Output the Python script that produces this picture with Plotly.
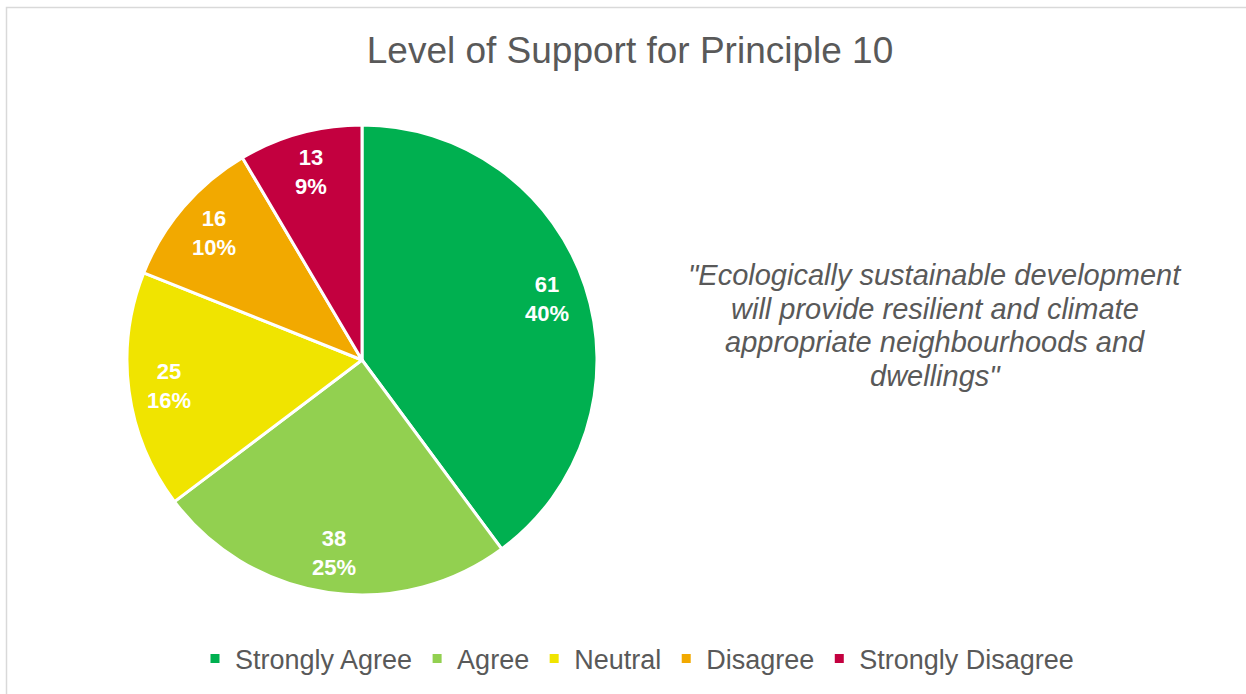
import math
import plotly.graph_objects as go

# Survey responses for Principle 10
categories = ["Strongly Agree", "Agree", "Neutral", "Disagree", "Strongly Disagree"]
counts = [61, 38, 25, 16, 13]
colors = ["#00B050", "#92D050", "#F0E400", "#F2A900", "#C3003F"]
quote_lines = [
    '"Ecologically sustainable development',
    "will provide resilient and climate",
    "appropriate neighbourhoods and",
    'dwellings"',
]

W, H = 1246, 694
cx, cy, r = 362, 360, 235  # pie centre and radius in pixels
FONT = "Arial"
GREY = "#595959"

# Whole-number percentages that add up to 100 (largest remainder)
total = sum(counts)
raw = [100 * c / total for c in counts]
pct = [math.floor(v) for v in raw]
order = sorted(range(len(raw)), key=lambda i: raw[i] - pct[i], reverse=True)
for i in order[: 100 - sum(pct)]:
    pct[i] += 1

fig = go.Figure(
    go.Pie(
        labels=categories,
        values=counts,
        sort=False,
        direction="clockwise",
        rotation=0,
        marker=dict(colors=colors, line=dict(color="white", width=3)),
        textinfo="none",
        hoverinfo="label+value+percent",
        domain=dict(x=[(cx - r) / W, (cx + r) / W], y=[(H - cy - r) / H, (H - cy + r) / H]),
    )
)

# Data labels placed along each slice's bisector
annotations = []
cum = 0
for c, p in zip(counts, pct):
    mid = (cum + c / 2) / total * 2 * math.pi
    cum += c
    rr = 0.83 * r
    px = cx + rr * math.sin(mid)
    py = cy - rr * math.cos(mid)
    annotations.append(
        dict(
            text=f"<b>{c}<br>{p}%</b>",
            x=px / W,
            y=1 - py / H,
            xref="paper",
            yref="paper",
            xanchor="center",
            yanchor="middle",
            showarrow=False,
            font=dict(family=FONT, size=22, color="white"),
        )
    )

# Quote text, one annotation per line for tight line spacing
q_top, q_step = 275, 33.5
for k, line in enumerate(quote_lines):
    annotations.append(
        dict(
            text=line,
            x=935 / W,
            y=1 - (q_top + k * q_step) / H,
            xref="paper",
            yref="paper",
            xanchor="center",
            yanchor="middle",
            showarrow=False,
            font=dict(family=FONT, size=29, color=GREY, style="italic"),
        )
    )

fig.update_layout(
    width=W,
    height=H,
    margin=dict(l=0, r=0, t=0, b=0),
    paper_bgcolor="white",
    font=dict(family=FONT, color=GREY),
    title=dict(
        text="Level of Support for Principle 10",
        x=630 / W,
        xanchor="center",
        y=1 - 50 / H,
        yanchor="middle",
        font=dict(family=FONT, size=37, color=GREY),
    ),
    legend=dict(
        orientation="h",
        x=637 / W,
        xanchor="center",
        y=1 - 659 / H,
        yanchor="middle",
        font=dict(family=FONT, size=27, color=GREY),
        itemwidth=30,
        traceorder="normal",
    ),
    annotations=annotations,
    shapes=[
        dict(
            type="rect",
            xref="paper",
            yref="paper",
            x0=6.5 / W,
            x1=1.01,
            y0=-0.01,
            y1=1 - 7.5 / H,
            line=dict(color="#D9D9D9", width=1.5),
        )
    ],
)

fig.write_html("out.html")
